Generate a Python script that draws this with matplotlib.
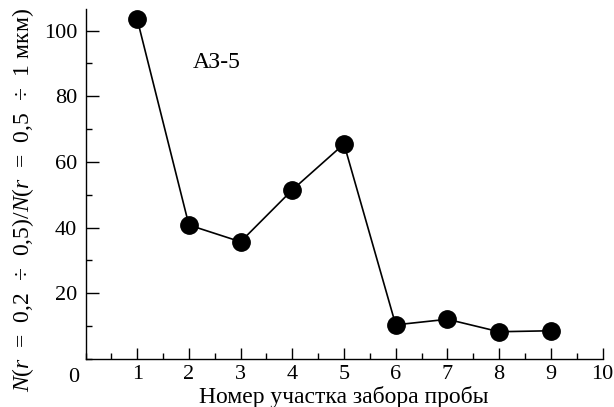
import matplotlib
matplotlib.use("Agg")
import matplotlib.pyplot as plt
from matplotlib.ticker import MultipleLocator, FixedLocator

plt.rcParams['font.family'] = ['Liberation Serif', 'DejaVu Serif']
plt.rcParams['mathtext.fontset'] = 'custom'
plt.rcParams['mathtext.it'] = 'Liberation Serif:italic'
plt.rcParams['mathtext.rm'] = 'Liberation Serif'
plt.rcParams['mathtext.bf'] = 'Liberation Serif:bold'

sites = [1, 2, 3, 4, 5, 6, 7, 8, 9]
ratio = [103.5, 40.8, 35.7, 51.5, 65.5, 10.4, 12.1, 8.3, 8.6]
x_ticks = [1, 2, 3, 4, 5, 6, 7, 8, 9, 10]
y_ticks = [20, 40, 60, 80, 100]
label_text = "АЗ-5"
xlabel = "Номер участка забора пробы"
ylabel = "$N$($r$  =  0,2  ÷  0,5)/$N$($r$  =  0,5  ÷  1 мкм)"

W, H = 614, 407
L, R, B, T = 85.5, 602.5, 359.0, 9.3
fig = plt.figure(figsize=(W / 100, H / 100), dpi=100)
ax = fig.add_axes([L / W, 1 - B / H, (R - L) / W, (B - T) / H])

ax.plot(sites, ratio, color='black', lw=1.2, marker='o', markersize=12.5,
        markerfacecolor='black', markeredgecolor='black', clip_on=False)

ax.set_xlim(0, 10)
ax.set_ylim(0, 106.5)
ax.xaxis.set_major_locator(FixedLocator(x_ticks))
ax.xaxis.set_minor_locator(MultipleLocator(0.5))
ax.yaxis.set_major_locator(FixedLocator(y_ticks))
ax.yaxis.set_minor_locator(MultipleLocator(10))

for s in ['top', 'right']:
    ax.spines[s].set_visible(False)
for s in ['left', 'bottom']:
    ax.spines[s].set_linewidth(1.0)

ax.tick_params(axis='both', which='major', direction='in', labelsize=16, width=1.0)
ax.tick_params(axis='x', which='major', length=8, pad=4)
ax.tick_params(axis='y', which='major', length=9, pad=6)
ax.tick_params(axis='both', which='minor', direction='in', length=4.5, width=1.0)

fig.text(73.5 / W, 1 - 382 / H, "0", fontsize=16, ha='center', va='baseline')

ax.text(2.08, 88.5, label_text, fontsize=17, ha='left', va='baseline')

fig.text(344 / W, 1 - 403.3 / H, xlabel, fontsize=17, ha='center', va='baseline')
fig.text(23 / W, 1 - 200 / H, ylabel, fontsize=17, rotation=90,
         ha='center', va='center')

fig.savefig("out.png", dpi=100)
